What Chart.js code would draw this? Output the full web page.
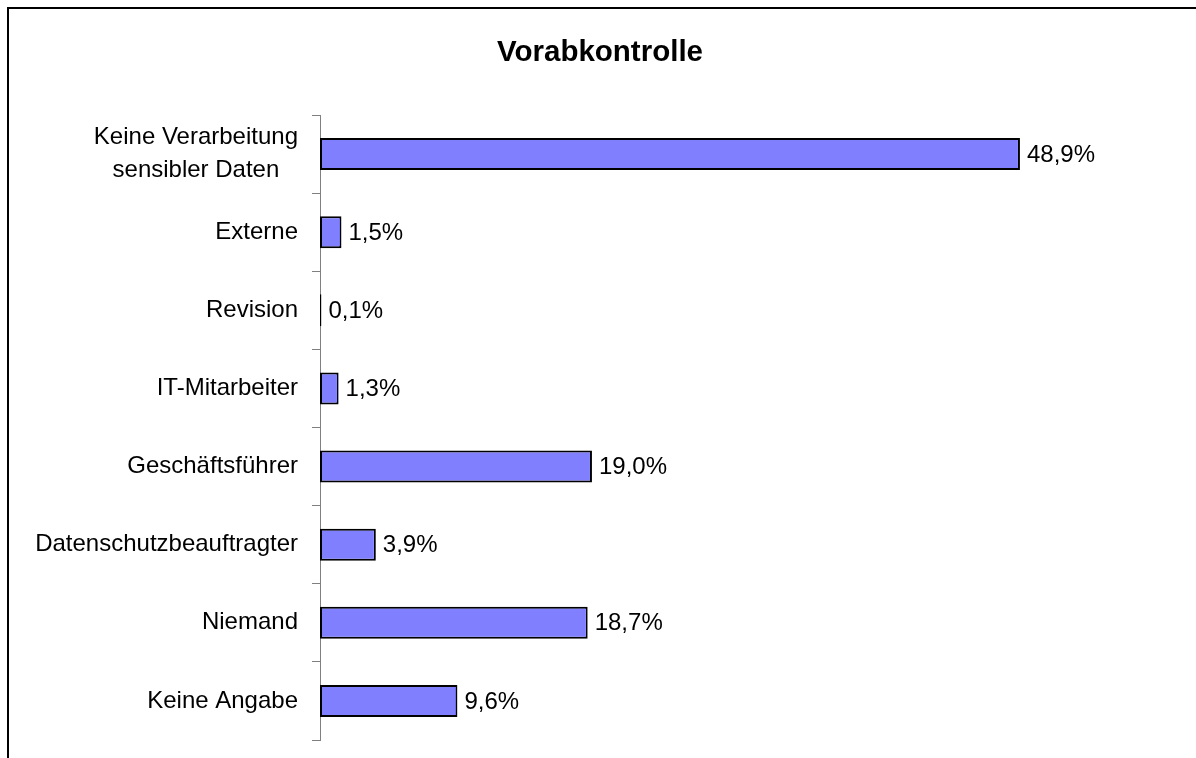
<!DOCTYPE html>
<html>
<head>
<meta charset="utf-8">
<script src="https://cdn.jsdelivr.net/npm/chart.js@4.4.0/dist/chart.umd.min.js"></script>
<style>
  html, body { margin: 0; padding: 0; background: #fff; overflow: hidden; }
  #wrap { position: relative; width: 1196px; height: 758px; }
  #rahmen { position: absolute; left: 7px; top: 7px; width: 1400px; height: 900px; border: 2px solid #000; box-sizing: border-box; }
  #chart-box { position: absolute; left: 0; top: 0; width: 1196px; height: 758px; }
</style>
</head>
<body>
<div id="wrap">
  <div id="rahmen"></div>
  <div id="chart-box"><canvas id="vorab"></canvas></div>
</div>
<script>
    // Daten
    const titel = 'Vorabkontrolle';
    const kategorien = [
        ['Keine Verarbeitung', 'sensibler Daten'],
        'Externe',
        'Revision',
        'IT-Mitarbeiter',
        'Geschäftsführer',
        'Datenschutzbeauftragter',
        'Niemand',
        'Keine Angabe'
    ];
    const anteile = [48.9, 1.5, 0.1, 1.3, 19.0, 3.9, 18.7, 9.6];
    const xMax = 50;

    const SCHRIFT = '"Liberation Sans", Arial, sans-serif';

    // Titel mittig über dem ganzen Bild
    const ueberschrift = {
        id: 'ueberschrift',
        afterDraw(chart) {
            const ctx = chart.ctx;
            ctx.save();
            ctx.font = 'bold 29.5px ' + SCHRIFT;
            ctx.fillStyle = '#000';
            ctx.textAlign = 'center';
            ctx.textBaseline = 'middle';
            ctx.fillText(titel, chart.width / 2 + 2, 53);
            ctx.restore();
        }
    };

    // Kategorie-Beschriftungen (mehrzeilig zentriert, rechtsbündig am Block)
    const beschriftungen = {
        id: 'beschriftungen',
        afterDraw(chart) {
            const ctx = chart.ctx, y = chart.scales.y;
            const rechts = chart.chartArea.left - 22;
            ctx.save();
            ctx.font = '24px ' + SCHRIFT;
            ctx.fillStyle = '#000';
            ctx.textAlign = 'center';
            ctx.textBaseline = 'middle';
            kategorien.forEach((lab, i) => {
                const zeilen = Array.isArray(lab) ? lab : [lab];
                const breit = Math.max(...zeilen.map(z => ctx.measureText(z).width));
                const cx = rechts - breit / 2;
                const cy = y.getPixelForValue(i);
                const lh = 33;
                zeilen.forEach((z, k) => {
                    ctx.fillText(z, cx, cy + (k - (zeilen.length - 1) / 2) * lh);
                });
            });
            ctx.restore();
        }
    };

    // Werte hinter den Balken
    const werte = {
        id: 'werte',
        afterDatasetsDraw(chart) {
            const ctx = chart.ctx;
            const meta = chart.getDatasetMeta(0);
            ctx.save();
            ctx.font = '24px ' + SCHRIFT;
            ctx.fillStyle = '#000';
            ctx.textAlign = 'left';
            ctx.textBaseline = 'middle';
            meta.data.forEach((bar, i) => {
                const txt = anteile[i].toFixed(1).replace('.', ',') + '%';
                ctx.fillText(txt, bar.x + 7, bar.y + 1);
            });
            ctx.restore();
        }
    };

    new Chart(document.getElementById('vorab'), {
        type: 'bar',
        data: {
            labels: kategorien,
            datasets: [{
                data: anteile,
                backgroundColor: '#8080FF',
                borderColor: '#000',
                borderWidth: 2,
                borderSkipped: false,
                categoryPercentage: 1,
                barPercentage: 0.41
            }]
        },
        options: {
            indexAxis: 'y',
            responsive: true,
            maintainAspectRatio: false,
            animation: false,
            layout: { padding: { top: 115, left: 0, right: 160.3, bottom: 18 } },
            plugins: {
                legend: { display: false },
                tooltip: { enabled: false },
                title: { display: false }
            },
            scales: {
                x: { display: false, min: 0, max: xMax },
                y: {
                    type: 'category',
                    offset: true,
                    grid: { display: true, offset: true, drawOnChartArea: false, drawTicks: true, tickLength: 8, color: '#808080' },
                    border: { display: true, color: '#808080', width: 1 },
                    ticks: { display: false },
                    afterFit(scale) { scale.width = 320; }
                }
            }
        },
        plugins: [ueberschrift, beschriftungen, werte]
    });
</script>
</body>
</html>
